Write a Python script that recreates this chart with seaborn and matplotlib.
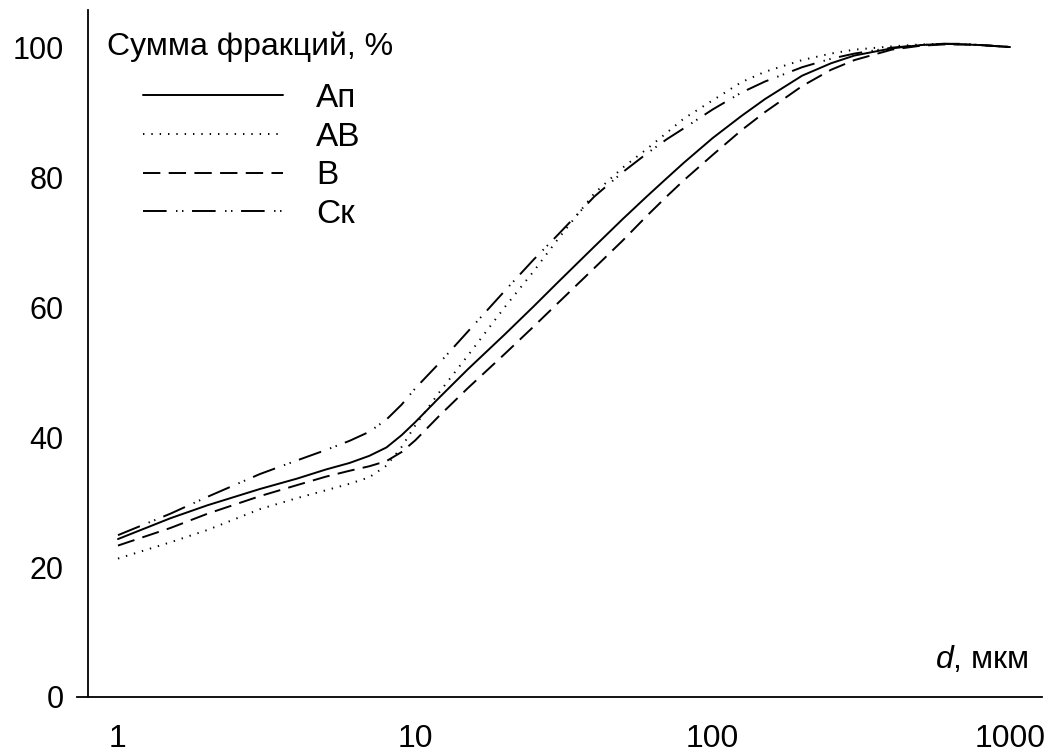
import matplotlib
matplotlib.use("Agg")
import matplotlib.pyplot as plt
import seaborn as sns
import pandas as pd

# Particle diameter, µm
d_um = [1, 1.5, 2, 3, 4, 5, 6, 7, 8, 9, 10, 12, 15, 20, 25, 30, 40, 50, 60,
        70, 80, 100, 125, 150, 200, 250, 300, 400, 500, 600, 700, 800, 1000]

# Cumulative fraction sums, % (one series per soil horizon)
ap = [24.3, 27.5, 29.5, 32.0, 33.6, 35.0, 36.0, 37.1, 38.4, 40.3, 42.3, 46.0,
      50.4, 55.8, 60.1, 63.7, 69.3, 73.6, 77.0, 79.8, 82.2, 86.0, 89.4, 92.0,
      95.6, 97.5, 98.7, 99.8, 100.3, 100.5, 100.4, 100.3, 100.0]
ab = [21.3, 23.8, 25.7, 28.9, 30.6, 31.8, 32.8, 33.8, 35.6, 38.5, 41.8, 46.8,
      52.5, 60.0, 65.5, 70.3, 77.5, 81.5, 84.3, 86.8, 89.0, 91.8, 94.6, 96.2,
      98.0, 99.0, 99.6, 100.1, 100.4, 100.5, 100.4, 100.3, 100.0]
b = [23.3, 26.0, 28.2, 30.9, 32.6, 33.9, 34.8, 35.5, 36.3, 37.7, 39.5, 43.2,
     47.5, 52.8, 57.0, 60.5, 66.0, 70.3, 74.0, 77.0, 79.5, 83.4, 87.2, 90.0,
     94.0, 96.5, 98.0, 99.6, 100.2, 100.4, 100.4, 100.3, 100.0]
ck = [24.9, 28.2, 30.8, 34.3, 36.4, 38.0, 39.4, 40.8, 42.7, 45.0, 47.5, 51.3,
      56.2, 62.5, 67.3, 71.0, 77.0, 80.8, 83.6, 85.8, 87.5, 90.4, 93.0, 94.7,
      96.9, 98.2, 99.0, 99.9, 100.3, 100.5, 100.5, 100.3, 100.0]

series_names = ["Ап", "АВ", "В", "Ск"]
series_values = [ap, ab, b, ck]

x_ticks = [1, 10, 100, 1000]
x_tick_labels = ["1", "10", "100", "1000"]
y_ticks = [0, 20, 40, 60, 80, 100]

sns.set_theme(style="white")
plt.rcParams["font.family"] = ["Liberation Sans", "DejaVu Sans"]
plt.rcParams["lines.scale_dashes"] = False
plt.rcParams["mathtext.fontset"] = "custom"
plt.rcParams["mathtext.it"] = "Liberation Sans:italic"
plt.rcParams["mathtext.rm"] = "Liberation Sans"

line_styles = {
    "Ап": "-",
    "АВ": (0, (1.0, 5.0)),
    "В": (0, (12.5, 6.0)),
    "Ск": (0, (17.0, 6.8, 1.0, 3.3, 1.0, 6.2)),
}

W, H = 1049, 753
fig = plt.figure(figsize=(W / 100, H / 100), dpi=100)
ax = fig.add_axes([77 / W, (H - 697) / H, (1042 - 77) / W, (697 - 10) / H])

for name, vals in zip(series_names, series_values):
    df = pd.DataFrame({"d": d_um, "sum": vals})
    sns.lineplot(data=df, x="d", y="sum", ax=ax, color="black",
                 linewidth=1.4, linestyle=line_styles[name], label=name)

ax.set_xscale("log")
ax.set_xlim(0.7281, 1281)
ax.set_ylim(0, 105.7)
ax.set_xticks(x_ticks)
ax.set_xticklabels(x_tick_labels)
ax.minorticks_off()
ax.set_yticks(y_ticks)
ax.set_xlabel("")
ax.set_ylabel("")

for side in ("top", "right"):
    ax.spines[side].set_visible(False)
for side in ("left", "bottom"):
    ax.spines[side].set_color("black")
    ax.spines[side].set_linewidth(1.3)
ax.spines["left"].set_position(("data", 0.7929))

ax.tick_params(axis="both", which="major", direction="out", length=7.2,
               width=1.3, color="black", labelcolor="black")
ax.tick_params(axis="y", pad=10.5, labelsize=22)
ax.tick_params(axis="x", pad=12.5, labelsize=23)

fig.text(107 / W, 1 - 47 / H, "Сумма фракций, %", fontsize=23,
         ha="left", va="center", color="black")
fig.text(1028 / W, 1 - 660 / H, r"$d$, мкм", fontsize=23,
         ha="right", va="center", color="black")

leg = ax.legend(loc="upper left", bbox_to_anchor=(143 / W, 1 - 83 / H),
                bbox_transform=fig.transFigure, frameon=False, fontsize=24,
                handlelength=4.2, handletextpad=1.0, labelspacing=0.23,
                borderpad=0, borderaxespad=0)
for t in leg.get_texts():
    t.set_color("black")

fig.savefig("out.png", dpi=100)
